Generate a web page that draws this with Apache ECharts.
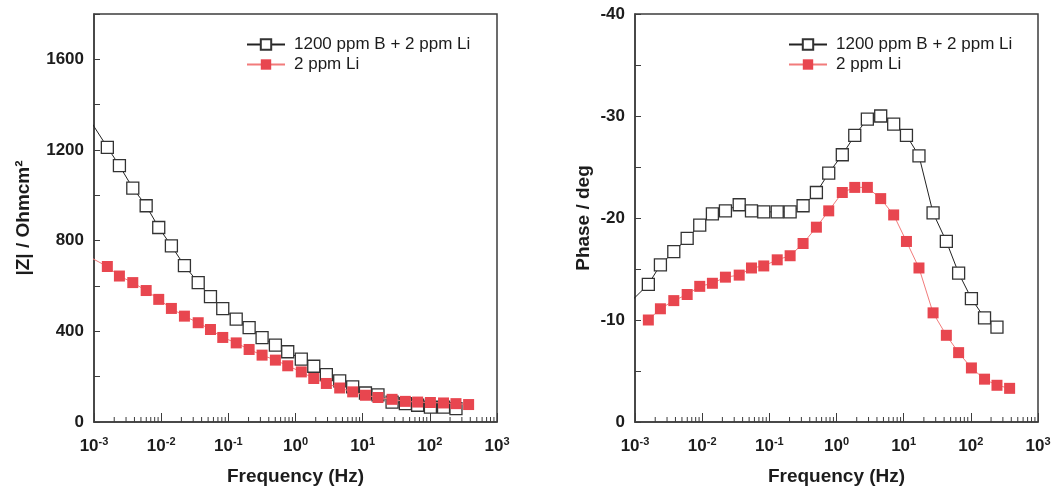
<!DOCTYPE html>
<html>
<head>
<meta charset="utf-8">
<script src="https://cdn.jsdelivr.net/npm/echarts@6/dist/echarts.min.js"></script>
<style>
html,body{margin:0;padding:0;background:#fff;}
#chart{width:1061px;height:491px;}
</style>
</head>
<body>
<div id="chart"></div>
<script>
// frequencies (Hz); first point lies just left of 10^-3 and is clipped
var freq = [0.00065, 0.00158, 0.00239, 0.00378, 0.00598, 0.0092, 0.0142, 0.0222, 0.0356, 0.0542,
  0.0826, 0.131, 0.204, 0.318, 0.502, 0.766, 1.22, 1.87, 2.88, 4.55,
  7.1, 11.0, 16.9, 27.4, 43.2, 65.8, 102, 160, 245, 378];

var seriesNames = ['1200 ppm B + 2 ppm Li', '2 ppm Li'];

// |Z| / Ohm cm2
var zB = [1390, 1212, 1131, 1032, 954, 858, 777, 690, 615, 553, 500, 454, 416, 372, 339, 310,
  277, 246, 209, 181, 155, 128, 120, 88, 81, 74, 66, 66, 59];
var zLi = [747, 686, 644, 615, 580, 541, 501, 467, 438, 408, 373, 349, 320, 295, 273, 248,
  221, 192, 170, 150, 133, 118, 108, 100, 91, 88, 86, 84, 81, 77];

// phase / deg
var phB = [-11.0, -13.5, -15.4, -16.7, -18.0, -19.3, -20.4, -20.7, -21.3, -20.7, -20.6, -20.6,
  -20.6, -21.2, -22.5, -24.4, -26.2, -28.1, -29.7, -30.0, -29.2, -28.1, -26.1, -20.5, -17.7,
  -14.6, -12.1, -10.2, -9.3];
var phLi = [null, -10.0, -11.1, -11.9, -12.5, -13.3, -13.6, -14.2, -14.4, -15.1, -15.3, -15.9,
  -16.3, -17.5, -19.1, -20.7, -22.5, -23.0, -23.0, -21.9, -20.3, -17.7, -15.1, -10.7, -8.5,
  -6.8, -5.3, -4.2, -3.6, -3.3];

var zTicks = [0, 400, 800, 1200, 1600];
var phTicks = [0, -10, -20, -30, -40];

// minor ticks of the log axis: 2..9 in every decade
var minorFreq = [];
for (var k = -3; k < 3; k++) {
  for (var m = 2; m < 10; m++) minorFreq.push(+(m * Math.pow(10, k)).toPrecision(3));
}

function pairs(vals) {
  var out = [];
  for (var i = 0; i < vals.length; i++) out.push([freq[i], vals[i]]);
  return out;
}

var font = 'Liberation Sans, Arial, Helvetica, sans-serif';
var ink = '#1c1c1c';
var frame = '#3c3c3c';

function xAxisOf(gi) {
  return {
    type: 'log', logBase: 10, gridIndex: gi, min: 0.001, max: 1000, interval: 1,
    name: 'Frequency (Hz)', nameLocation: 'middle', nameGap: 45,
    nameTextStyle: {fontFamily: font, fontSize: 19, fontWeight: 'bold', color: ink},
    axisLine: {show: true, lineStyle: {color: frame, width: 1.5}},
    axisTick: {show: true, inside: true, length: 9, lineStyle: {color: frame, width: 1}},
    splitLine: {show: false},
    axisLabel: {
      margin: 14, color: ink,
      formatter: function (v) {
        var e = Math.round(Math.log(v) / Math.LN10);
        return '{b|10}{s|' + e + '}';
      },
      rich: {
        b: {fontFamily: font, fontSize: 17, fontWeight: 'bold', color: ink},
        s: {fontFamily: font, fontSize: 11, fontWeight: 'bold', color: ink, padding: [0, 0, 9, 0]}
      }
    }
  };
}

function yAxisOf(gi, o) {
  return {
    type: 'value', gridIndex: gi, min: o.min, max: o.max, interval: o.interval, inverse: o.inverse,
    name: o.name, nameLocation: 'middle', nameGap: o.gap, nameRotate: 90,
    nameTextStyle: {fontFamily: font, fontSize: 19, fontWeight: 'bold', color: ink},
    axisLine: {show: true, lineStyle: {color: frame, width: 1.5}},
    axisTick: {show: true, inside: true, length: 6, lineStyle: {color: frame, width: 1}},
    splitLine: {show: false},
    axisLabel: {
      margin: 10, color: ink, fontFamily: font, fontSize: 17, fontWeight: 'bold',
      formatter: function (v) { return o.labels.indexOf(v) >= 0 ? String(v) : ''; }
    }
  };
}

function minorTicks(gi) {
  return {
    type: 'custom', xAxisIndex: gi, yAxisIndex: gi, silent: true, z: 4,
    data: minorFreq.map(function (f) { return [f, 0]; }),
    renderItem: function (params, api) {
      var p = api.coord([api.value(0), api.value(1)]);
      return {type: 'line', shape: {x1: p[0], y1: p[1], x2: p[0], y2: p[1] - 5},
        style: {stroke: frame, lineWidth: 1}};
    }
  };
}

function blackSeries(gi, vals) {
  return {
    name: seriesNames[0], type: 'line', xAxisIndex: gi, yAxisIndex: gi, data: pairs(vals),
    symbol: 'rect', symbolSize: 12, showSymbol: true, clip: true, z: 5,
    lineStyle: {color: '#222', width: 1},
    itemStyle: {color: '#fff', borderColor: '#333', borderWidth: 1.3}
  };
}

function redSeries(gi, vals) {
  return {
    name: seriesNames[1], type: 'line', xAxisIndex: gi, yAxisIndex: gi, data: pairs(vals),
    symbol: 'rect', symbolSize: 11, showSymbol: true, clip: true, z: 6,
    lineStyle: {color: '#f27b7b', width: 1},
    itemStyle: {color: '#e8464f', borderColor: '#e8464f', borderWidth: 0}
  };
}

function legendAt(gi, left) {
  return {
    data: seriesNames, orient: 'vertical', left: left, top: 31, itemWidth: 38, itemHeight: 13,
    itemGap: 3, selectedMode: false,
    textStyle: {fontFamily: font, fontSize: 17, color: ink, padding: [0, 0, 0, 4]}
  };
}

var chart = echarts.init(document.getElementById('chart'), null, {renderer: 'canvas'});
chart.setOption({
  animation: false,
  backgroundColor: '#fff',
  grid: [
    {left: 94, top: 14, width: 403, height: 408, show: true, borderColor: frame, borderWidth: 1.5, backgroundColor: 'transparent'},
    {left: 635, top: 14, width: 403, height: 408, show: true, borderColor: frame, borderWidth: 1.5, backgroundColor: 'transparent'}
  ],
  legend: [legendAt(0, 241), legendAt(1, 783)],
  xAxis: [xAxisOf(0), xAxisOf(1)],
  yAxis: [
    yAxisOf(0, {min: 0, max: 1800, interval: 200, name: '|Z| / Ohmcm\u00b2', gap: 61, labels: zTicks}),
    yAxisOf(1, {min: -40, max: 0, interval: 5, inverse: true, name: 'Phase / deg', gap: 42, labels: phTicks})
  ],
  series: [
    minorTicks(0), minorTicks(1),
    blackSeries(0, zB), redSeries(0, zLi),
    blackSeries(1, phB), redSeries(1, phLi)
  ]
});
</script>
</body>
</html>
